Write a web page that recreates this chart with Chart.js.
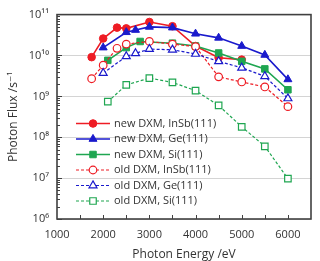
<!DOCTYPE html>
<html>
<head>
<meta charset="utf-8">
<script src="https://cdn.jsdelivr.net/npm/chart.js@4"></script>
<style>
  html, body { margin: 0; padding: 0; background: #fff; }
</style>
</head>
<body>
<canvas id="flux-chart" width="320" height="261"></canvas>
<script>
// photon energy (eV) / photon flux (s^-1)
const newInSbEnergy = [1750, 2000, 2300, 2500, 3000, 3500, 4000, 4500, 5000];
const newInSbFlux   = [9.1e9, 2.6e10, 4.8e10, 4.6e10, 6.6e10, 5.2e10, 1.7e10, 8.8e9, 7.9e9];

const newGeEnergy = [2000, 2500, 2700, 3000, 3500, 4000, 4500, 5000, 5500, 6000];
const newGeFlux   = [1.56e10, 3.7e10, 4.2e10, 5.0e10, 4.8e10, 3.4e10, 2.7e10, 1.7e10, 1.03e10, 2.6e9];

const newSiEnergy = [2100, 2500, 2800, 3500, 4000, 4500, 5000, 5500, 6000];
const newSiFlux   = [7.6e9, 1.56e10, 2.2e10, 2.0e10, 1.7e10, 1.15e10, 7.2e9, 4.7e9, 1.45e9];

const oldInSbEnergy = [1750, 2000, 2300, 2500, 3000, 3500, 4000, 4500, 5000, 5500, 6000];
const oldInSbFlux   = [2.7e9, 5.8e9, 1.5e10, 1.9e10, 2.2e10, 1.9e10, 1.65e10, 3.0e9, 2.25e9, 1.7e9, 5.6e8];

const oldGeEnergy = [2000, 2500, 2700, 3000, 3500, 4000, 4500, 5000, 5500, 6000];
const oldGeFlux   = [3.7e9, 9.5e9, 1.13e10, 1.43e10, 1.38e10, 1.09e10, 7.2e9, 5.0e9, 3.1e9, 8.9e8];

const oldSiEnergy = [2100, 2500, 3000, 3500, 4000, 4500, 5000, 5500, 6000];
const oldSiFlux   = [7.4e8, 1.9e9, 2.8e9, 2.2e9, 1.38e9, 6.0e8, 1.8e8, 6.0e7, 9.7e6];

const seriesLabels = [
  'new DXM, InSb(111)', 'new DXM, Ge(111)', 'new DXM, Si(111)',
  'old DXM, InSb(111)', 'old DXM, Ge(111)', 'old DXM, Si(111)'
];

const RED = '#ee1c24';
const BLUE = '#1a1acc';
const GREEN = '#1fa651';
const FONT = '"Open Sans", "DejaVu Sans", sans-serif';
const TEXT = '#333333';

function pairs(xs, ys) {
  return xs.map((x, i) => ({ x: x, y: ys[i] }));
}

function makeSeries(idx, xs, ys, color, shape, isOld) {
  return {
    label: seriesLabels[idx],
    data: pairs(xs, ys),
    borderColor: color,
    borderWidth: isOld ? 1.2 : 1.6,
    borderDash: isOld ? [3, 2] : [],
    pointStyle: shape,
    pointRadius: shape === 'triangle' ? 4.6 : (shape === 'rect' ? 4.6 : 3.8),
    pointBorderWidth: isOld ? 1.2 : 1,
    pointBorderColor: color,
    pointBackgroundColor: isOld ? '#ffffff' : color,
    fill: false,
    tension: 0,
    order: 6 - idx
  };
}

const SUP = { '0': '⁰', '1': '¹', '2': '²', '3': '³', '4': '⁴', '5': '⁵', '6': '⁶', '7': '⁷', '8': '⁸', '9': '⁹' };
function isDecade(v) {
  const e = Math.log10(v);
  return Math.abs(e - Math.round(e)) < 1e-6;
}

// frame box and inward tick marks
const framePlugin = {
  id: 'frame',
  afterDatasetsDraw(chart) {
    const ctx = chart.ctx;
    const a = chart.chartArea;
    const xs = chart.scales.x;
    const ys = chart.scales.y;
    ctx.save();
    ctx.strokeStyle = '#404040';
    ctx.lineWidth = 1;
    ctx.setLineDash([]);
    ctx.beginPath();
    for (let v = 1500; v < 6500; v += 500) {
      const px = Math.round(xs.getPixelForValue(v)) + 0.5;
      ctx.moveTo(px, a.bottom);
      ctx.lineTo(px, a.bottom - 4);
    }
    for (let e = 6; e < 11; e++) {
      for (let m = 1; m <= 9; m++) {
        const py = Math.round(ys.getPixelForValue(m * Math.pow(10, e))) + 0.5;
        const len = m === 1 ? 5 : 3;
        ctx.moveTo(a.left, py);
        ctx.lineTo(a.left + len, py);
      }
    }
    ctx.stroke();
    ctx.lineWidth = 1.6;
    ctx.strokeRect(a.left, a.top, a.right - a.left, a.bottom - a.top);
    ctx.restore();
  }
};

function drawMarker(ctx, shape, cx, cy, r) {
  ctx.beginPath();
  if (shape === 'circle') {
    ctx.arc(cx, cy, r, 0, Math.PI * 2);
  } else if (shape === 'triangle') {
    const h = r * 1.5;
    ctx.moveTo(cx, cy - r);
    ctx.lineTo(cx + r * 0.866, cy + r * 0.5);
    ctx.lineTo(cx - r * 0.866, cy + r * 0.5);
    ctx.closePath();
  } else {
    const s = r * Math.SQRT1_2;
    ctx.rect(cx - s, cy - s, s * 2, s * 2);
  }
  ctx.fill();
  ctx.stroke();
}

// legend sitting inside the plot, lower left
const legendPlugin = {
  id: 'insideLegend',
  afterDraw(chart) {
    const ctx = chart.ctx;
    ctx.save();
    chart.data.datasets.forEach((ds, i) => {
      const yy = 123.5 + i * 15.5;
      ctx.strokeStyle = ds.borderColor;
      ctx.lineWidth = ds.borderWidth;
      ctx.setLineDash(ds.borderDash);
      ctx.beginPath();
      ctx.moveTo(76, yy);
      ctx.lineTo(110, yy);
      ctx.stroke();
      ctx.setLineDash([]);
      ctx.lineWidth = ds.pointBorderWidth;
      ctx.fillStyle = ds.pointBackgroundColor;
      drawMarker(ctx, ds.pointStyle, 93, yy, ds.pointRadius);
      ctx.fillStyle = TEXT;
      ctx.font = '11px ' + FONT;
      ctx.textBaseline = 'middle';
      ctx.textAlign = 'left';
      ctx.fillText(ds.label, 114, yy);
    });
    ctx.restore();
  }
};

const ctx = document.getElementById('flux-chart').getContext('2d');
new Chart(ctx, {
  type: 'line',
  data: {
    datasets: [
      makeSeries(0, newInSbEnergy, newInSbFlux, RED, 'circle', false),
      makeSeries(1, newGeEnergy, newGeFlux, BLUE, 'triangle', false),
      makeSeries(2, newSiEnergy, newSiFlux, GREEN, 'rect', false),
      makeSeries(3, oldInSbEnergy, oldInSbFlux, RED, 'circle', true),
      makeSeries(4, oldGeEnergy, oldGeFlux, BLUE, 'triangle', true),
      makeSeries(5, oldSiEnergy, oldSiFlux, GREEN, 'rect', true)
    ]
  },
  options: {
    responsive: false,
    animation: false,
    devicePixelRatio: 1,
    layout: { padding: { top: 5, right: 8, left: 0, bottom: 0 } },
    plugins: {
      legend: { display: false },
      tooltip: { enabled: false }
    },
    scales: {
      x: {
        type: 'linear',
        min: 1000,
        max: 6500,
        border: { display: false },
        grid: { display: false, drawTicks: false },
        ticks: {
          stepSize: 500,
          autoSkip: false,
          maxRotation: 0,
          padding: 9,
          color: TEXT,
          font: { family: FONT, size: 11 },
          callback: function(v) {
            return (v % 1000 === 0 && v <= 6000) ? String(v) : '';
          }
        },
        title: {
          display: true,
          text: 'Photon Energy /eV',
          color: TEXT,
          font: { family: FONT, size: 12, lineHeight: 1 },
          padding: { top: 0, bottom: 0 }
        },
        afterFit: function(s) { s.height = 42; }
      },
      y: {
        type: 'logarithmic',
        min: 1e6,
        max: 1e11,
        border: { display: false },
        grid: {
          drawTicks: false,
          lineWidth: 1,
          color: function(c) {
            return (c.tick && isDecade(c.tick.value)) ? '#d4d4d4' : 'rgba(0,0,0,0)';
          }
        },
        ticks: {
          autoSkip: false,
          padding: 8,
          color: TEXT,
          font: { family: FONT, size: 11 },
          callback: function(v) {
            if (!isDecade(v)) return '';
            const e = String(Math.round(Math.log10(v)));
            return '10' + e.split('').map(d => SUP[d]).join('');
          }
        },
        title: {
          display: true,
          text: 'Photon Flux /s⁻¹',
          color: TEXT,
          font: { family: FONT, size: 12, lineHeight: 1 },
          padding: { top: 8, bottom: 0 }
        },
        afterFit: function(s) { s.width = 57; }
      }
    }
  },
  plugins: [framePlugin, legendPlugin]
});
</script>
</body>
</html>
